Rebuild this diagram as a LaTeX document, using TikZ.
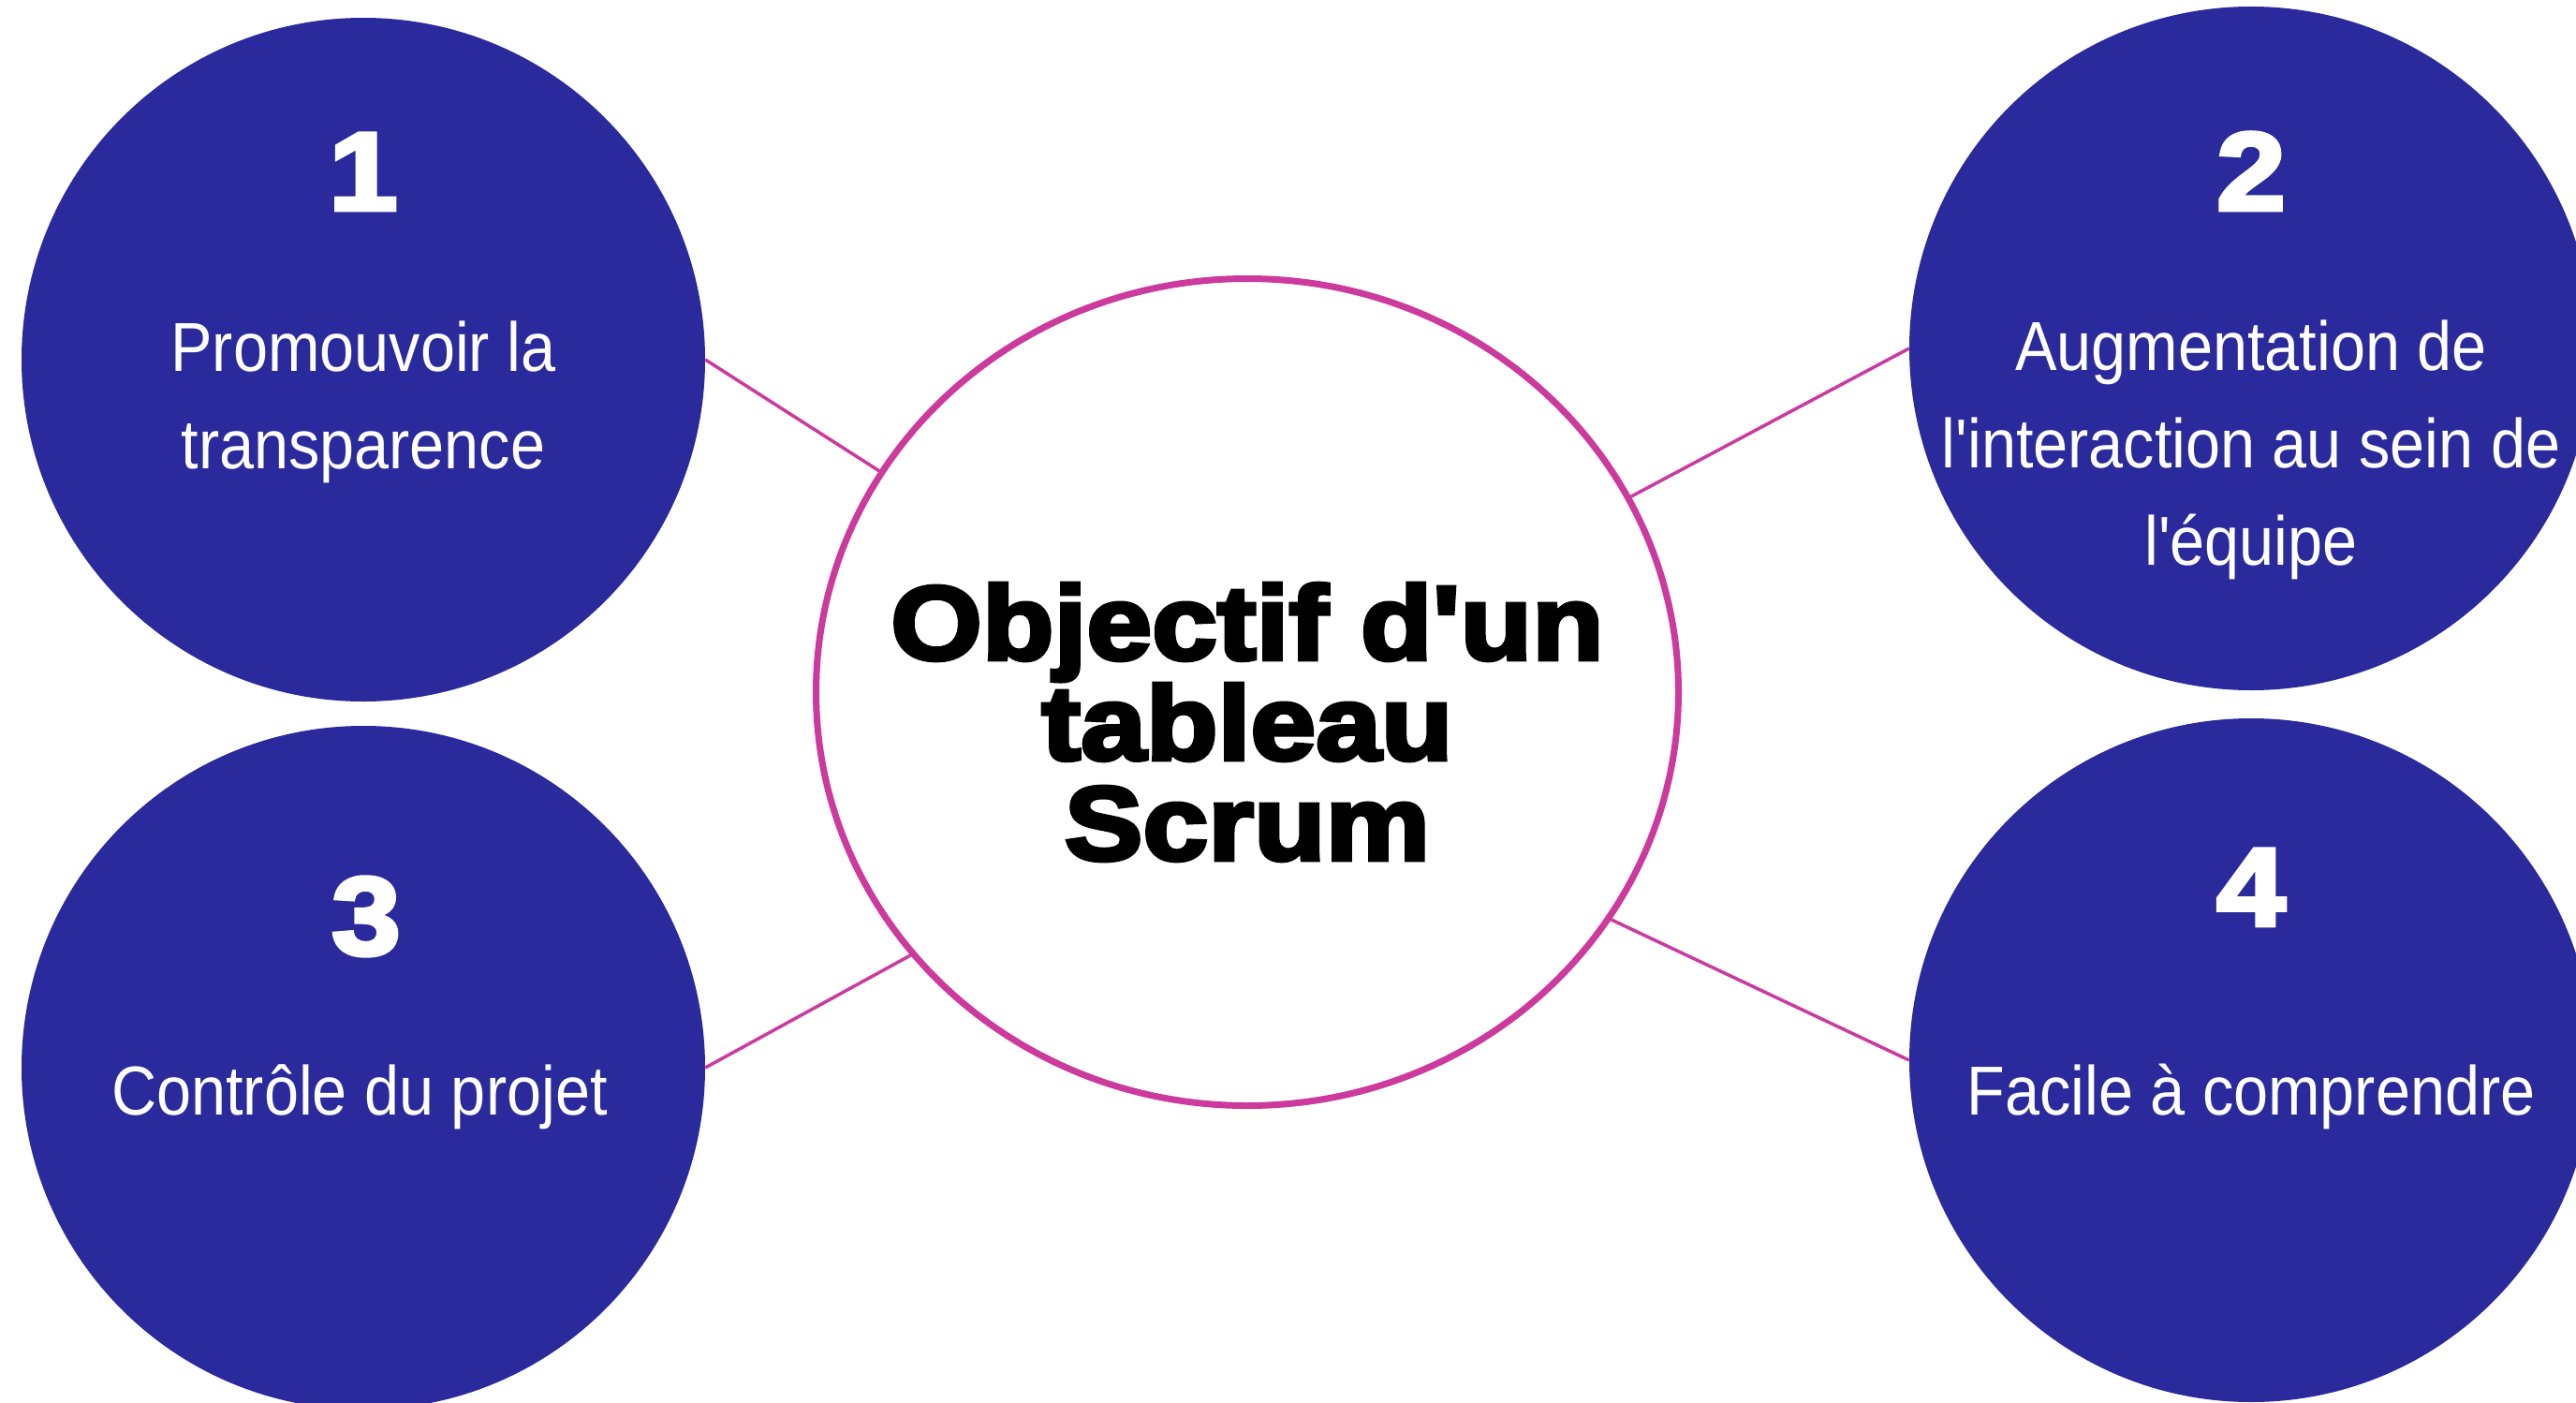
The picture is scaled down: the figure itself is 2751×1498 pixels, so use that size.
\documentclass[tikz,border=0pt]{standalone}
\usepackage{fontspec}
\setmainfont{Liberation Sans}
\newfontfamily\labelfont[FakeStretch=0.9]{Liberation Sans}
\newfontfamily\heavyfont[BoldFeatures={FakeBold=4,FakeStretch=1.12}]{Liberation Sans}
\usetikzlibrary{shapes.geometric}
\definecolor{navy}{HTML}{2A2A9C}
\definecolor{hubpink}{HTML}{CC3A9E}
\tikzset{
  numcirc/.style={circle, fill=navy, minimum size=730pt, inner sep=0pt},
  hub/.style={ellipse, draw=hubpink, line width=7pt, fill=white,
    minimum width=921pt, minimum height=883pt, inner sep=0pt},
  link/.style={draw=hubpink, line width=3.5pt},
  digit/.style={text=white, inner sep=0pt, anchor=base,
    font=\heavyfont\bfseries\fontsize{118}{118}\selectfont},
  caption/.style={text=white, inner sep=0pt, anchor=base, align=center,
    font=\labelfont\fontsize{74}{104}\selectfont},
  title/.style={text=black, inner sep=0pt, align=center,
    font=\heavyfont\bfseries\fontsize{112}{107}\selectfont},
}
\begin{document}
\begin{tikzpicture}[x=1pt, y=-1pt]
  \useasboundingbox (0,0) rectangle (2751,1498);
  \clip (0,0) rectangle (2751,1498);
  \fill[white] (0,0) rectangle (2751,1498);

  % four numbered discs
  \node[numcirc] (c1) at (388,384) {};
  \node[numcirc] (c2) at (2404,372) {};
  \node[numcirc] (c3) at (388,1140) {};
  \node[numcirc] (c4) at (2404,1132) {};

  % central goal
  \node[hub] (hub) at (1332,739) {};

  % spokes from each disc to the centre
  \draw[link] (c1.east) -- (hub.149.5);
  \draw[link] (c2.west) -- (hub.27.8);
  \draw[link] (c3.east) -- (hub.218.7);
  \draw[link] (c4.west) -- (hub.-32);

  \node[title] (goal) at (1332,771) {Objectif d'un\\tableau\\Scrum};

  % numbers
  \node[digit] (n1) at (388,224) {1};
  \node[digit] (n2) at (2404,224) {2};
  \node[digit] (n3) at (391,1019) {3};
  \node[digit] (n4) at (2404,988) {4};

  % captions (anchored on the baseline of their last line)
  \node[caption] (t1) at (388,500) {Promouvoir la\\transparence};
  \node[caption] (t2) at (2404,603) {Augmentation de\\l'interaction au sein de\\l'équipe};
  \node[caption] (t3) at (384,1190) {Contrôle du projet};
  \node[caption] (t4) at (2404,1190) {Facile à comprendre};
\end{tikzpicture}
\end{document}
